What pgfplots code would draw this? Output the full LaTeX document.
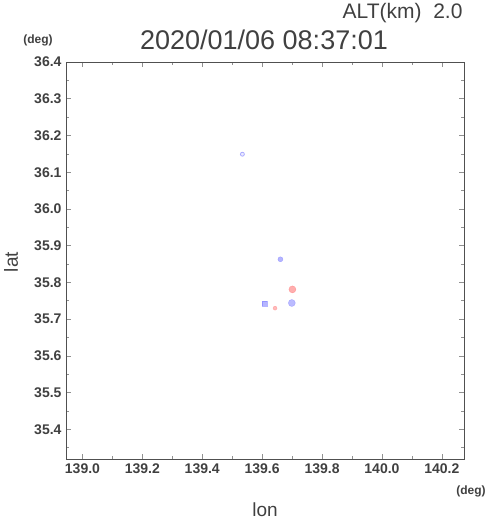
\documentclass[border=0pt]{standalone}
\usepackage{pgfplots}
\pgfplotsset{compat=1.18}
\usepackage{fontspec}
\setmainfont{Liberation Sans}
\definecolor{txt}{HTML}{404040}
\definecolor{axc}{HTML}{505050}
\definecolor{tkc}{HTML}{909090}
\definecolor{pblue}{RGB}{120,120,255}
\definecolor{pred}{RGB}{255,120,120}
\begin{document}
\begin{tikzpicture}
\useasboundingbox (0pt,0pt) rectangle (490pt,521pt);
\begin{axis}[
  at={(66pt,61.5pt)}, anchor=south west,
  scale only axis, width=398pt, height=397.5pt,
  xmin=138.945, xmax=140.274,
  ymin=35.318, ymax=36.4,
  axis line style={axc, line width=0.8pt},
  xtick={139.0,139.2,139.4,139.6,139.8,140.0,140.2},
  minor xtick={139.1,139.3,139.5,139.7,139.9,140.1},
  ytick={35.4,35.5,35.6,35.7,35.8,35.9,36.0,36.1,36.2,36.3,36.4},
  minor ytick={35.35,35.45,35.55,35.65,35.75,35.85,35.95,36.05,36.15,36.25,36.35},
  tick align=inside,
  major tick length=5pt, minor tick length=3pt,
  every tick/.style={tkc, line width=0.6pt},
  /pgf/number format/fixed,
  /pgf/number format/fixed zerofill,
  /pgf/number format/precision=1,
  /pgf/number format/assume math mode=true,
  ticklabel style={font=\fontsize{14}{14}\selectfont\bfseries, text=txt},
  xticklabel style={yshift=-1pt},
  yticklabel style={xshift=-1pt},
  clip=false,
]
\addplot[only marks, mark=*, mark size=2pt, draw=pblue, fill=pblue, draw opacity=0.6, fill opacity=0.15, line width=0.8pt] coordinates {(139.534,36.149)};
\addplot[only marks, mark=*, mark size=2.5pt, draw=pblue, fill=pblue, opacity=0.55] coordinates {(139.661,35.863)};
\addplot[only marks, mark=*, mark size=3.5pt, draw=pred, fill=pred, opacity=0.6] coordinates {(139.701,35.781)};
\addplot[only marks, mark=*, mark size=3.5pt, draw=pblue, fill=pblue, opacity=0.5] coordinates {(139.699,35.744)};
\addplot[only marks, mark=square*, mark size=2.5pt, draw=pblue, fill=pblue, opacity=0.55] coordinates {(139.609,35.742)};
\addplot[only marks, mark=*, mark size=2pt, draw=pred, fill=pred, opacity=0.5] coordinates {(139.643,35.730)};
\end{axis}
\node[text=txt, font=\fontsize{27}{27}\selectfont] at (264pt,481pt) {2020/01/06 08:37:01};
\node[text=txt, font=\fontsize{21}{21}\selectfont, anchor=east] at (466pt,508pt) {ALT(km)\ \ 2.0};
\node[text=txt, font=\fontsize{12}{12}\selectfont\bfseries] at (38pt,481pt) {(deg)};
\node[text=txt, font=\fontsize{12}{12}\selectfont\bfseries] at (471pt,30pt) {(deg)};
\node[text=txt, font=\fontsize{19}{19}\selectfont] at (265pt,11pt) {lon};
\node[text=txt, font=\fontsize{19}{19}\selectfont, rotate=90] at (11pt,259pt) {lat};
\end{tikzpicture}
\end{document}
